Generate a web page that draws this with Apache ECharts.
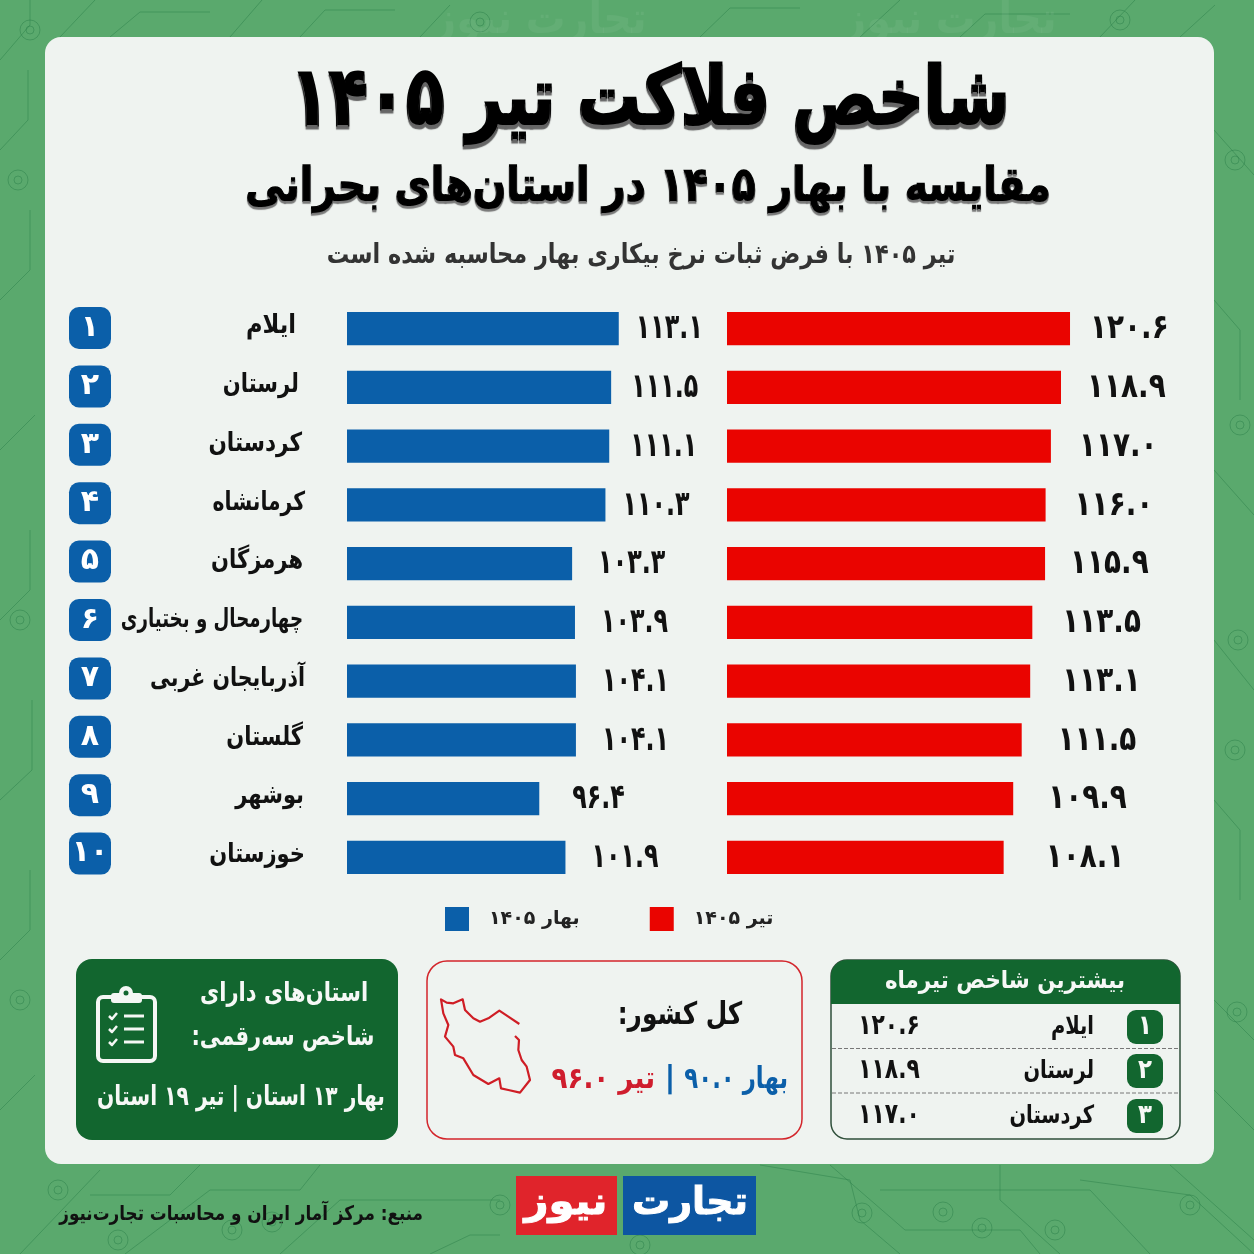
<!DOCTYPE html>
<html lang="fa" dir="rtl">
<head>
<meta charset="UTF-8">
<title>شاخص فلاکت تیر ۱۴۰۵</title>
<script src="https://cdn.jsdelivr.net/npm/echarts@6/dist/echarts.min.js"></script>
<style>
    html, body { margin: 0; padding: 0; background: #5aa96d; }
    #chart { position: absolute; left: 0; top: 0; width: 1254px; height: 1254px; }
</style>
</head>
<body>
<div id="chart"></div>
<script>
// data
var provinces = ['ایلام', 'لرستان', 'کردستان', 'کرمانشاه', 'هرمزگان', 'چهارمحال و بختیاری', 'آذربایجان غربی', 'گلستان', 'بوشهر', 'خوزستان'];
var ranks = ['1', '2', '3', '4', '5', '6', '7', '8', '9', '10'];
var springValues = [113.1, 111.5, 111.1, 110.3, 103.3, 103.9, 104.1, 104.1, 96.4, 101.9];
var tirValues = [120.6, 118.9, 117.0, 116.0, 115.9, 113.5, 113.1, 111.5, 109.9, 108.1];
var springName = 'بهار ۱۴۰۵';
var tirName = 'تیر ۱۴۰۵';
var countrySpring = 90.0;
var countryTir = 96.0;
var provincesSpring = 13;
var provincesTir = 19;

var FONT = '"DejaVu Sans", sans-serif';
var GREEN = '#12662f', BLUE = '#0b5fa9', RED = '#ea0400', INK = '#111111';

// the original labels are placed by hand, so gaps and squeeze go row by row
var springGaps = [17, 20, 21, 17, 26, 26, 26, 26, 33, 26];
var tirGaps = [20, 26, 28, 29, 25, 30, 32, 36, 35, 42];
var nameScales = [0.87, 0.81, 0.83, 0.78, 0.81, 0.7, 0.79, 0.81, 0.81, 0.81];
var nameShifts = [-7, -4, -1, 2, 0, 0, 2, 0, 1, 2];

function fa(v) {
    return String(v).replace(/[0-9]/g, function (d) { return '۰۱۲۳۴۵۶۷۸۹'[+d]; });
}
function fa1(v) { return fa(v.toFixed(1)); }

// DejaVu is much wider than the poster font, so texts get squeezed with scaleX
function text(x, y, str, size, color, scale, extra) {
    var style = {
        x: 0, y: 0, text: str, fill: color, align: 'center', verticalAlign: 'middle',
        font: 'bold ' + size + 'px ' + FONT
    };
    for (var k in extra) style[k] = extra[k];
    return { type: 'text', x: x, y: y, scaleX: scale || 1, style: style, silent: true };
}
function box(x, y, w, h, r, fill, stroke, lineWidth) {
    return {
        type: 'rect', shape: { x: x, y: y, width: w, height: h, r: r }, silent: true,
        style: { fill: fill || 'none', stroke: stroke || 'none', lineWidth: lineWidth || 0 }
    };
}
function line(points, color, width, dash) {
    return {
        type: 'polyline', shape: { points: points }, silent: true,
        style: { fill: 'none', stroke: color, lineWidth: width, lineDash: dash || null, lineJoin: 'round' }
    };
}
function ring(x, y, r, color) {
    return { type: 'circle', shape: { cx: x, cy: y, r: r }, silent: true, style: { fill: 'none', stroke: color, lineWidth: 1 } };
}

var graphics = [];

// circuit pattern on the green background
var traceColor = 'rgba(40,125,70,0.45)';
[
    [[0, 60], [30, 25], [30, 0]], [[60, 37], [95, 0]], [[110, 37], [140, 12], [210, 12]], [[230, 37], [262, 0]],
    [[300, 37], [325, 10], [395, 10]], [[420, 37], [450, 5]], [[700, 37], [730, 8], [800, 8]], [[860, 37], [900, 0]],
    [[960, 37], [985, 14], [1070, 14]], [[1100, 37], [1135, 0]], [[1180, 37], [1215, 5]],
    [[0, 150], [28, 120], [28, 70]], [[0, 300], [30, 270], [30, 210]], [[0, 450], [35, 415]], [[0, 620], [30, 590], [30, 530]],
    [[0, 800], [32, 770], [32, 700]], [[0, 960], [30, 930], [30, 870]], [[0, 1110], [35, 1075]],
    [[1214, 130], [1254, 175]], [[1214, 300], [1240, 330], [1240, 400]], [[1214, 470], [1254, 515]], [[1214, 640], [1254, 690]],
    [[1214, 800], [1240, 830], [1240, 900]], [[1214, 1000], [1254, 1040]], [[1214, 1090], [1254, 1130]],
    [[20, 1254], [100, 1170]], [[90, 1195], [170, 1195], [200, 1165]], [[125, 1254], [210, 1190], [300, 1190], [320, 1165]],
    [[280, 1254], [340, 1200], [500, 1200]], [[430, 1254], [470, 1235], [500, 1235]],
    [[760, 1165], [850, 1180], [860, 1220], [900, 1254]], [[830, 1165], [905, 1230], [1020, 1230], [1040, 1254]],
    [[1000, 1165], [1000, 1200], [1060, 1254]], [[1080, 1180], [1190, 1195], [1254, 1254]],
    [[880, 1190], [1090, 1190], [1150, 1254]], [[1170, 1165], [1254, 1240]]
].forEach(function (p) { graphics.push(line(p, traceColor, 1)); });
[[58, 1190], [118, 1240], [232, 1230], [272, 1222], [500, 1205], [640, 1245], [862, 1213], [943, 1212], [982, 1228],
 [1055, 1230], [1190, 1205], [1237, 1012], [20, 1000], [20, 620], [1238, 640], [1235, 750], [1240, 425], [1235, 160], [18, 180], [30, 30], [480, 22], [1120, 20]
].forEach(function (c) {
    graphics.push(ring(c[0], c[1], 10, traceColor));
    graphics.push(ring(c[0], c[1], 4, traceColor));
});
graphics.push(text(540, 22, 'تجارت نیوز', 44, 'rgba(255,255,255,0.06)', 0.9));
graphics.push(text(950, 22, 'تجارت نیوز', 44, 'rgba(255,255,255,0.06)', 0.9));

// card
graphics.push(box(45, 37, 1169, 1127, 16, '#eff3f0'));

// headings
graphics.push(text(650, 104, 'شاخص فلاکت تیر ۱۴۰۵', 82, '#000', 0.77, {
    stroke: '#000', lineWidth: 3, textShadowColor: '#666', textShadowOffsetY: 3, textShadowBlur: 1
}));
graphics.push(text(648, 189, 'مقایسه با بهار ۱۴۰۵ در استان‌های بحرانی', 48, '#000', 0.82, {
    stroke: '#000', lineWidth: 1.5, textShadowColor: '#777', textShadowOffsetY: 2, textShadowBlur: 1
}));
graphics.push(text(641, 256, 'تیر ۱۴۰۵ با فرض ثبات نرخ بیکاری بهار محاسبه شده است', 27, '#333', 0.83));

// green box with clipboard
graphics.push(box(76, 959, 322, 181, 16, GREEN));
graphics.push(box(98, 997, 57, 64, 5, 'none', '#f4f7f4', 4));
graphics.push(box(111, 993, 31, 10, 3, '#f4f7f4'));
graphics.push({ type: 'circle', shape: { cx: 126, cy: 993, r: 7 }, silent: true, style: { fill: '#f4f7f4' } });
graphics.push({ type: 'circle', shape: { cx: 126, cy: 993, r: 2.5 }, silent: true, style: { fill: GREEN } });
[1016, 1029, 1042].forEach(function (y) {
    graphics.push(line([[109, y], [112, y + 3], [117, y - 3]], '#f4f7f4', 2.5));
    graphics.push(line([[124, y], [144, y]], '#f4f7f4', 3));
});
graphics.push(text(284, 994, 'استان‌های دارای', 26, '#f6f8f6', 0.81));
graphics.push(text(283, 1038, 'شاخص سه‌رقمی:', 26, '#f6f8f6', 0.81));
graphics.push(text(241, 1098, 'بهار ' + fa(provincesSpring) + ' استان | تیر ' + fa(provincesTir) + ' استان', 27, '#f6f8f6', 0.75));

// whole country box
graphics.push(box(427, 961, 375, 178, 20, 'none', '#d3252b', 1.5));
function iran(points) {
    return line(points.map(function (p) { return [420 + p[0] / 3, 950 + p[1] / 3]; }), '#cf1d25', 2.2);
}
graphics.push(iran([[298, 222], [265, 200], [238, 182], [205, 205], [180, 215], [160, 205], [135, 180], [128, 148], [100, 160], [80, 158], [63, 148], [70, 190], [85, 225], [75, 260], [100, 290], [105, 315], [130, 325], [160, 375], [205, 402], [238, 385], [243, 415], [265, 420], [300, 428], [330, 390], [320, 350], [305, 330], [295, 300], [297, 270], [285, 258]]));
graphics.push(text(680, 1016, 'کل کشور:', 31, INK, 0.8));
graphics.push(text(788, 1080, 'بهار ' + fa1(countrySpring), 30, BLUE, 0.76, { align: 'right' }));
graphics.push(text(670, 1079, '|', 30, BLUE));
graphics.push(text(655, 1080, 'تیر ' + fa1(countryTir), 30, '#cf1d2d', 0.87, { align: 'right' }));

// top three table, first three rows of the chart
graphics.push(box(831, 960, 349, 179, 16, 'none', '#2f4f3a', 1.5));
graphics.push({
    type: 'rect', shape: { x: 831, y: 960, width: 349, height: 44, r: [16, 16, 0, 0] }, silent: true,
    style: { fill: GREEN }
});
graphics.push(text(1005, 982, 'بیشترین شاخص تیرماه', 24, '#f6f8f6', 0.89));
[1048.5, 1093].forEach(function (y) {
    graphics.push(line([[832, y], [1179, y]], '#777777', 1, [4, 2]));
});
[1027, 1071, 1116].forEach(function (y, i) {
    graphics.push(box(1127, y - 17, 36, 34, 9, GREEN));
    graphics.push(text(1145, y, fa(ranks[i]), 27, '#f6f8f6', 0.85));
    graphics.push(text(1094, y, provinces[i], 25, INK, 0.78, { align: 'right' }));
    graphics.push(text(889, y, fa1(tirValues[i]), 28, INK, 0.78));
});

// logo and source
graphics.push(box(623, 1176, 133, 59, 0, '#0d56a2'));
graphics.push(box(516, 1176, 101, 59, 0, '#e0242b'));
graphics.push(text(690, 1204, 'تجارت', 38, '#ffffff', 1, { stroke: '#ffffff', lineWidth: 1 }));
graphics.push(text(566, 1204, 'نیوز', 38, '#ffffff', 1.1, { stroke: '#ffffff', lineWidth: 1 }));
graphics.push(text(423, 1215, 'منبع: مرکز آمار ایران و محاسبات تجارت‌نیوز', 20, INK, 0.84, { align: 'right' }));

function barSeries(name, values, color, axisIndex) {
    return {
        type: 'bar', name: name, xAxisIndex: axisIndex, yAxisIndex: axisIndex,
        barWidth: 33.4, itemStyle: { color: color }, silent: true,
        data: values
    };
}

// value labels squeezed like the bar ends, placed through the axis scale
function valueSeries(values, gaps, axisIndex, scale) {
    return {
        type: 'custom', xAxisIndex: axisIndex, yAxisIndex: axisIndex, silent: true,
        encode: { x: 0, y: 1 },
        data: values.map(function (v, i) { return [v, i]; }),
        renderItem: function (params, api) {
            var p = api.coord([api.value(0), api.value(1)]);
            return {
                type: 'text', x: p[0] + gaps[params.dataIndex], y: p[1] + 1, scaleX: scale,
                style: {
                    x: 0, y: 0, text: fa1(api.value(0)), fill: INK, align: 'left', verticalAlign: 'middle',
                    font: 'bold 34px ' + FONT
                }
            };
        }
    };
}

// province names right aligned left of the blue bars
function nameSeries() {
    return {
        type: 'custom', xAxisIndex: 0, yAxisIndex: 0, silent: true,
        encode: { x: 0, y: 1 },
        data: provinces.map(function (n, i) { return [56, i]; }),
        renderItem: function (params, api) {
            var i = params.dataIndex;
            var p = api.coord([api.value(0), api.value(1)]);
            return {
                type: 'text', x: p[0] - 44 + nameShifts[i], y: p[1] - 2, scaleX: nameScales[i],
                style: {
                    x: 0, y: 0, text: provinces[i], fill: INK, align: 'right', verticalAlign: 'middle',
                    font: 'bold 26px ' + FONT
                }
            };
        }
    };
}

function hiddenX(i, min, max) {
    return { type: 'value', gridIndex: i, min: min, max: max, show: false };
}
function hiddenY(i) {
    return { type: 'category', gridIndex: i, inverse: true, data: provinces, show: false };
}

var option = {
    animation: false,
    backgroundColor: '#5aa96d',
    textStyle: { fontFamily: FONT },
    legend: {
        left: 440, top: 902, itemWidth: 24, itemHeight: 24, itemGap: 70, selectedMode: false, icon: 'rect',
        data: [springName, tirName],
        textStyle: { fontFamily: FONT, fontWeight: 'bold', fontSize: 19, color: '#222', padding: [0, 0, 0, 15] }
    },
    grid: [
        { left: 347, top: 299.3, width: 304.6, height: 587.4 },
        { left: 727, top: 299.3, width: 371.7, height: 587.4 },
        { left: 90, top: 298.8, width: 1, height: 584 }
    ],
    xAxis: [hiddenX(0, 56, 120), hiddenX(1, 56, 126), hiddenX(2, 0, 1)],
    yAxis: [
        hiddenY(0),
        hiddenY(1),
        {
            type: 'category', gridIndex: 2, inverse: true, data: ranks,
            axisLine: { show: false }, axisTick: { show: false },
            axisLabel: {
                margin: 0, interval: 0, align: 'center', color: '#ffffff',
                fontFamily: FONT, fontWeight: 'bold', fontSize: 30,
                backgroundColor: BLUE, borderRadius: 10, width: 42, height: 42, lineHeight: 42,
                formatter: function (v) { return fa(v); }
            }
        }
    ],
    graphic: { elements: graphics },
    series: [
        barSeries(springName, springValues, BLUE, 0),
        barSeries(tirName, tirValues, RED, 1),
        valueSeries(springValues, springGaps, 0, 0.7),
        valueSeries(tirValues, tirGaps, 1, 0.82),
        nameSeries()
    ]
};

var chart = echarts.init(document.getElementById('chart'), null, { renderer: 'canvas' });
chart.setOption(option);
</script>
</body>
</html>
